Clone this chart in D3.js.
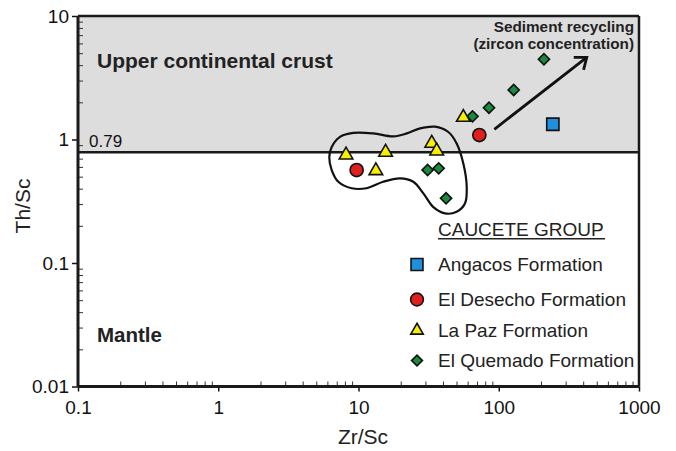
<!DOCTYPE html>
<html>
<head>
<meta charset="utf-8">
<script src="https://cdn.jsdelivr.net/npm/d3@7"></script>
<style>
  html, body { margin: 0; padding: 0; background: #fff; }
  svg { display: block; font-family: "Liberation Sans", Arial, Helvetica, sans-serif; }
</style>
</head>
<body>
<script>
// Th/Sc vs Zr/Sc discrimination diagram, Caucete Group samples

const formations = ["Angacos Formation", "El Desecho Formation", "La Paz Formation", "El Quemado Formation"];

const angacosZrSc = [243];
const angacosThSc = [1.33];

const desechoZrSc = [9.7, 72.7];
const desechoThSc = [0.566, 1.087];

const lapazZrSc = [8.15, 15.6, 13.3, 33.3, 36.1, 55.9];
const lapazThSc = [0.749, 0.788, 0.559, 0.932, 0.807, 1.51];

const quemadoZrSc = [31.1, 37.3, 42.1, 65.0, 85.2, 127.8, 210];
const quemadoThSc = [0.566, 0.584, 0.334, 1.54, 1.81, 2.52, 4.46];

// Upper continental crust Th/Sc reference value
const uccThSc = 0.79;

// Envelope around the low-Th/Sc cluster (Zr/Sc, Th/Sc)
const envelopeZrSc = [6.19, 6.44, 7.38, 9.18, 12.75, 17.7, 22.1, 27.5, 35.1, 43.7, 50.1, 55.9, 59.1, 57.5, 50.1, 41.4, 34.2, 29.0, 24.6, 19.8, 15.0, 11.4, 8.94, 7.18, 6.44];
const envelopeThSc = [0.72, 0.87, 1.05, 1.13, 1.12, 1.06, 1.12, 1.23, 1.27, 1.15, 0.93, 0.64, 0.415, 0.305, 0.26, 0.252, 0.283, 0.366, 0.455, 0.485, 0.455, 0.403, 0.403, 0.455, 0.566];

// Sediment recycling trend arrow (start, tip)
const arrowZrSc = [93, 424];
const arrowThSc = [1.21, 4.63];

const xTicks = [0.1, 1, 10, 100, 1000];
const xTickLabels = ["0.1", "1", "10", "100", "1000"];
const yTicks = [0.01, 0.1, 1, 10];
const yTickLabels = ["0.01", "0.1", "1", "10"];

const W = 676, H = 451;
const plotL = 78, plotR = 639, plotT = 16, plotB = 386.5;

const x = d3.scaleLog().domain([0.1, 1000]).range([plotL, plotR]);
const y = d3.scaleLog().domain([0.01, 10]).range([plotB, plotT]);

const svg = d3.select("body").append("svg").attr("width", W).attr("height", H);

// shaded upper crust field above 0.79
svg.append("rect")
  .attr("x", x(0.1)).attr("y", y(10))
  .attr("width", x(1000) - x(0.1))
  .attr("height", y(uccThSc) - y(10))
  .attr("fill", "#dddddd");

// minor ticks (inside)
const minorVals = (lo, hi) => {
  const out = [];
  for (let d = lo; d < hi * 0.999; d *= 10) for (let k = 2; k <= 9; k++) out.push(d * k);
  return out;
};

svg.append("g")
  .attr("transform", `translate(0,${plotB})`)
  .call(d3.axisTop(x).tickValues(minorVals(0.1, 1000)).tickSize(5).tickFormat(""))
  .call(g => g.select(".domain").remove())
  .call(g => g.selectAll("line").attr("stroke", "#333").attr("stroke-width", 1));

svg.append("g")
  .attr("transform", `translate(${plotL},0)`)
  .call(d3.axisRight(y).tickValues(minorVals(0.01, 10)).tickSize(5).tickFormat(""))
  .call(g => g.select(".domain").remove())
  .call(g => g.selectAll("line").attr("stroke", "#333").attr("stroke-width", 1));

// major axes
const xAxis = svg.append("g")
  .attr("transform", `translate(0,${plotB})`)
  .call(d3.axisBottom(x).tickValues(xTicks).tickSize(5).tickPadding(9)
    .tickFormat((d, i) => xTickLabels[i]));
xAxis.select(".domain").remove();
xAxis.selectAll("line").attr("stroke", "#111").attr("stroke-width", 1.5);
xAxis.selectAll("text").attr("font-size", 19).attr("fill", "#111")
  .attr("font-family", "'Liberation Sans', Arial, sans-serif");

const yAxis = svg.append("g")
  .attr("transform", `translate(${plotL},0)`)
  .call(d3.axisLeft(y).tickValues(yTicks).tickSize(6).tickPadding(3)
    .tickFormat((d, i) => yTickLabels[i]));
yAxis.select(".domain").remove();
yAxis.selectAll("line").attr("stroke", "#111").attr("stroke-width", 1.5);
yAxis.selectAll("text").attr("font-size", 19).attr("fill", "#111")
  .attr("font-family", "'Liberation Sans', Arial, sans-serif");

// frame
svg.append("line").attr("x1", plotL).attr("x2", plotR).attr("y1", plotT).attr("y2", plotT)
  .attr("stroke", "#1a1a1a").attr("stroke-width", 2.5);
svg.append("line").attr("x1", plotR).attr("x2", plotR).attr("y1", plotT).attr("y2", plotB)
  .attr("stroke", "#1a1a1a").attr("stroke-width", 2.5);
svg.append("line").attr("x1", plotL).attr("x2", plotR).attr("y1", plotB).attr("y2", plotB)
  .attr("stroke", "#1a1a1a").attr("stroke-width", 3);
svg.append("line").attr("x1", plotL).attr("x2", plotL).attr("y1", plotT).attr("y2", plotB)
  .attr("stroke", "#1a1a1a").attr("stroke-width", 3);

// 0.79 boundary
svg.append("line")
  .attr("x1", x(0.1)).attr("x2", x(1000))
  .attr("y1", y(uccThSc)).attr("y2", y(uccThSc))
  .attr("stroke", "#1a1a1a").attr("stroke-width", 2.5);
svg.append("text").attr("x", 89).attr("y", y(uccThSc) - 5)
  .attr("font-size", 17).attr("fill", "#111").text("0.79");

// field labels
svg.append("text").attr("x", 97).attr("y", 68)
  .attr("font-size", 21).attr("font-weight", "bold").attr("fill", "#222")
  .text("Upper continental crust");
svg.append("text").attr("x", 97).attr("y", 342)
  .attr("font-size", 20.5).attr("font-weight", "bold").attr("fill", "#222")
  .text("Mantle");

svg.append("text").attr("x", 634).attr("y", 32).attr("text-anchor", "end")
  .attr("font-size", 15.3).attr("font-weight", "bold").attr("fill", "#222")
  .text("Sediment recycling");
svg.append("text").attr("x", 634).attr("y", 49).attr("text-anchor", "end")
  .attr("font-size", 15.3).attr("font-weight", "bold").attr("fill", "#222")
  .text("(zircon concentration)");

// axis titles
svg.append("text").attr("x", 363).attr("y", 444).attr("text-anchor", "middle")
  .attr("font-size", 21).attr("fill", "#222").text("Zr/Sc");
svg.append("text")
  .attr("transform", `translate(30,206) rotate(-90)`)
  .attr("text-anchor", "middle")
  .attr("font-size", 21).attr("fill", "#222").text("Th/Sc");

// envelope
const envelope = envelopeZrSc.map((v, i) => [v, envelopeThSc[i]]);
svg.append("path")
  .datum(envelope)
  .attr("d", d3.line().x(d => x(d[0])).y(d => y(d[1])).curve(d3.curveCatmullRomClosed.alpha(0.5)))
  .attr("fill", "none").attr("stroke", "#111").attr("stroke-width", 2.2);

// trend arrow
const ax0 = x(arrowZrSc[0]), ay0 = y(arrowThSc[0]);
const ax1 = x(arrowZrSc[1]), ay1 = y(arrowThSc[1]);
svg.append("line").attr("x1", ax0).attr("y1", ay0).attr("x2", ax1).attr("y2", ay1)
  .attr("stroke", "#111").attr("stroke-width", 2.8);
{
  const ang = Math.atan2(ay1 - ay0, ax1 - ax0) + Math.PI;
  const len = 13, spread = 38 * Math.PI / 180;
  const p1 = [ax1 + len * Math.cos(ang - spread), ay1 + len * Math.sin(ang - spread)];
  const p2 = [ax1 + len * Math.cos(ang + spread), ay1 + len * Math.sin(ang + spread)];
  svg.append("path")
    .attr("d", `M${p1[0]},${p1[1]}L${ax1},${ay1}L${p2[0]},${p2[1]}`)
    .attr("fill", "none").attr("stroke", "#111").attr("stroke-width", 2.8)
    .attr("stroke-linejoin", "miter");
}

// symbols
const styles = [
  { type: d3.symbolSquare, size: 150, fill: "#1e90dd", rot: 0 },
  { type: d3.symbolCircle, size: 135, fill: "#e1201d", rot: 0 },
  { type: d3.symbolTriangle, size: 80, fill: "#f7ee00", rot: 0 },
  { type: d3.symbolSquare, size: 62, fill: "#1a8a3c", rot: 45 }
];
const seriesX = [angacosZrSc, desechoZrSc, lapazZrSc, quemadoZrSc];
const seriesY = [angacosThSc, desechoThSc, lapazThSc, quemadoThSc];

function drawSymbol(g, s, cx, cy, scale) {
  g.append("path")
    .attr("d", d3.symbol().type(s.type).size(s.size * scale)())
    .attr("transform", `translate(${cx},${cy}) rotate(${s.rot})`)
    .attr("fill", s.fill).attr("stroke", "#111").attr("stroke-width", 1.6)
    .attr("stroke-linejoin", "miter");
}

const marks = svg.append("g");
// draw order: quemado, lapaz, desecho, angacos
[3, 2, 1, 0].forEach(si => {
  seriesX[si].forEach((v, i) => drawSymbol(marks, styles[si], x(v), y(seriesY[si][i]), 1));
});

// legend
const lg = svg.append("g");
lg.append("text").attr("x", 438).attr("y", 236)
  .attr("font-size", 19).attr("fill", "#222").text("CAUCETE GROUP");
lg.append("line").attr("x1", 438).attr("x2", 605).attr("y1", 238.8).attr("y2", 238.8)
  .attr("stroke", "#222").attr("stroke-width", 1.4);
const legendY = [264.5, 299.5, 330.5, 360.5];
const legendScale = [0.95, 0.95, 0.85, 0.95];
formations.forEach((name, i) => {
  drawSymbol(lg, styles[i], 417, legendY[i], legendScale[i]);
  lg.append("text").attr("x", 438).attr("y", legendY[i] + 6.5)
    .attr("font-size", 19).attr("fill", "#222").text(name);
});
</script>
</body>
</html>
